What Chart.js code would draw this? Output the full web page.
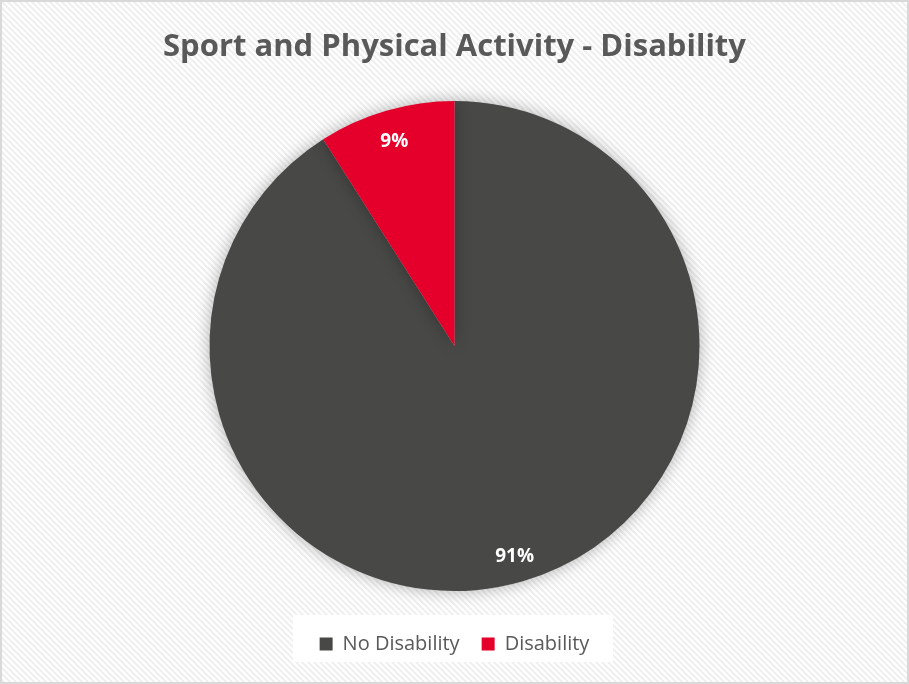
<!DOCTYPE html>
<html>
<head>
<meta charset="utf-8">
<script src="https://cdn.jsdelivr.net/npm/chart.js@4/dist/chart.umd.min.js"></script>
<style>
  html, body { margin: 0; padding: 0; background: #fff; }
  #wrap { width: 909px; height: 684px; position: relative; }
</style>
</head>
<body>
<div id="wrap"><canvas id="pieChart" width="909" height="684"></canvas></div>
<script>
// Participación en deporte y actividad física
const categorias = ['No Disability', 'Disability'];
const porcentajes = [91, 9];
const colores = ['#484846', '#e4002b'];

// fondo rayado diagonal + borde del gráfico
const fondoPlugin = {
    id: 'fondo',
    beforeDraw(chart) {
        const c = chart.ctx;
        const p = document.createElement('canvas');
        p.width = 6; p.height = 6;
        const pc = p.getContext('2d');
        pc.fillStyle = '#ffffff';
        pc.fillRect(0, 0, 6, 6);
        pc.strokeStyle = '#efefef';
        pc.lineWidth = 2;
        pc.beginPath();
        pc.moveTo(-1, -1); pc.lineTo(7, 7);
        pc.moveTo(-4, 2); pc.lineTo(4, 10);
        pc.moveTo(2, -4); pc.lineTo(10, 4);
        pc.stroke();
        c.save();
        c.fillStyle = c.createPattern(p, 'repeat');
        c.fillRect(0, 0, chart.width, chart.height);
        c.strokeStyle = '#d9d9d9';
        c.lineWidth = 2;
        c.strokeRect(1, 1, chart.width - 2, chart.height - 2);
        // recuadro blanco detrás de la leyenda
        const lg = chart.legend;
        if (lg) {
            const cy = lg.top + lg.height / 2;
            c.fillStyle = '#ffffff';
            c.fillRect(293, cy - 23, 320, 47);
        }
        c.restore();
    },
    beforeDatasetsDraw(chart) {
        const c = chart.ctx;
        c.save();
        c.shadowColor = 'rgba(0,0,0,0.3)';
        c.shadowBlur = 16;
        c.shadowOffsetX = 0;
        c.shadowOffsetY = 0;
    },
    afterDatasetsDraw(chart) {
        chart.ctx.restore();
    }
};

// etiquetas de porcentaje dentro de cada porción
const etiquetasPlugin = {
    id: 'etiquetas',
    afterDatasetsDraw(chart) {
        const c = chart.ctx;
        const meta = chart.getDatasetMeta(0);
        c.save();
        c.fillStyle = '#ffffff';
        c.font = 'bold 19px "Open Sans", sans-serif';
        c.textAlign = 'center';
        c.textBaseline = 'middle';
        meta.data.forEach((arc, i) => {
            const { x, y, startAngle, endAngle, outerRadius } = arc.getProps(['x', 'y', 'startAngle', 'endAngle', 'outerRadius'], true);
            const mid = (startAngle + endAngle) / 2;
            const r = outerRadius * 0.88;
            c.fillText(porcentajes[i] + '%', x + Math.cos(mid) * r, y + Math.sin(mid) * r + 3);
        });
        c.restore();
    }
};

new Chart(document.getElementById('pieChart'), {
    type: 'pie',
    data: {
        labels: categorias,
        datasets: [{
            data: porcentajes,
            backgroundColor: colores,
            borderWidth: 0,
            radius: 245
        }]
    },
    options: {
        responsive: false,
        animation: false,
        layout: { padding: { top: 0, bottom: 20, left: 0, right: 0 } },
        plugins: {
            title: {
                display: true,
                text: 'Sport and Physical Activity - Disability',
                color: '#595959',
                font: { family: '"Open Sans", sans-serif', size: 31, weight: 'bold' },
                padding: { top: 29, bottom: 14 }
            },
            legend: {
                position: 'bottom',
                labels: {
                    color: '#595959',
                    font: { family: '"Open Sans", sans-serif', size: 20 },
                    boxWidth: 13,
                    boxHeight: 13,
                    padding: 22
                }
            },
            tooltip: { enabled: false }
        }
    },
    plugins: [fondoPlugin, etiquetasPlugin]
});
</script>
</body>
</html>
